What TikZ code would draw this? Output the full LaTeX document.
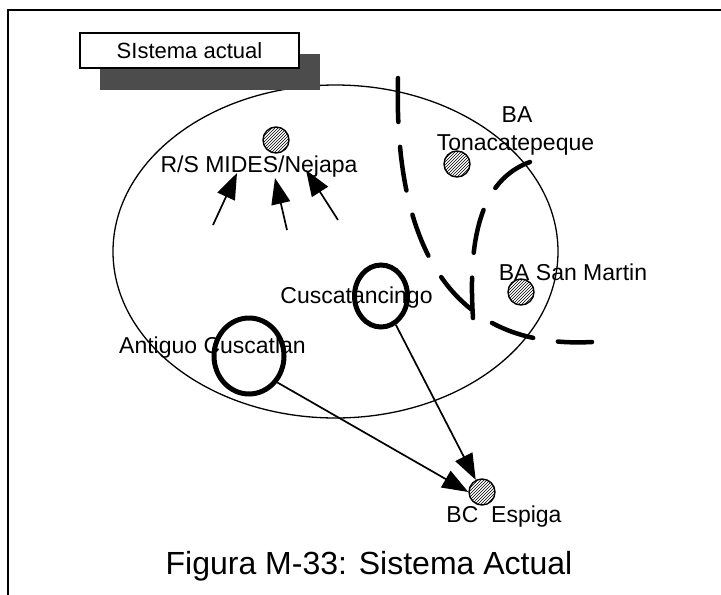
\documentclass[tikz,border=0pt]{standalone}
\usepackage{fontspec}
\setmainfont{Liberation Sans}
\usetikzlibrary{arrows.meta,positioning,shapes.geometric,patterns}

\begin{document}
\begin{tikzpicture}[x=1pt,y=-1pt,
        lbl/.style={inner sep=0pt,font=\fontsize{23}{27}\selectfont},
        site/.style={circle,draw,line width=1.4pt,pattern=north east lines,minimum size=26pt,inner sep=0pt},
        zone/.style={ellipse,draw,line width=5pt,inner sep=0pt},
        flow/.style={line width=1.7pt,-{Triangle[length=26pt,width=19pt]}},
        limite/.style={line width=4.5pt,line cap=round,dash pattern=on 44pt off 25pt}]
        \useasboundingbox (0,0) rectangle (721,595);
        % Frame
        \draw[line width=2pt] (8,595) -- (8,10) -- (721,10);
        % Area of the current system
        \draw[line width=1.3pt] (335.5,251.5) ellipse [x radius=222.5pt, y radius=166.5pt];
        % Title box with shadow
        \fill[black!70] (100,54) rectangle (320,90);
        \node[draw,fill=white,line width=1.5pt,minimum width=219pt,minimum height=35pt,
            font=\fontsize{22}{26}\selectfont] (titulo) at (189.5,50.5) {SIstema actual};
        % Boundaries
        \draw[limite] (398,78) .. controls (394,230) and (440,350) .. (592,342);
        \draw[limite] (530,162) .. controls (480,180) and (468,240) .. (473,318);
        % Labels
        \node[lbl,anchor=base] (midesl) at (259,172) {R/S MIDES/Nejapa};
        \node[lbl,anchor=base] (tonal) at (517,122) {BA};
        \node[lbl,anchor=base] (tonal2) at (515.5,150) {Tonacatepeque};
        \node[lbl,anchor=base] (sanmartinl) at (573,280) {BA San Martin};
        \node[lbl,anchor=base] (cuscal) at (356.5,303) {Cuscatancingo};
        \node[lbl,anchor=base] (antiguol) at (212.5,353) {Antiguo Cuscatlan};
        \node[lbl,anchor=base] (espigal) at (504,522) {BC\ \ Espiga};
        % Sites
        \node[site] (mides) at (276,140) {};
        \node[site] (tona) at (457,164) {};
        \node[site] (sanmartin) at (521,292) {};
        \node[site] (espiga) at (482,492) {};
        % Collection zones
        \node[zone,minimum width=53pt,minimum height=62pt] (cusca) at (381,296) {};
        \node[zone,minimum width=70pt,minimum height=76pt] (antiguo) at (249,356) {};
        % Flows to R/S MIDES
        \coordinate (c1) at (213,225);
        \coordinate (p1) at (237,173);
        \coordinate (c2) at (287,230);
        \coordinate (p2) at (275,178);
        \coordinate (c3) at (338,220);
        \coordinate (p3) at (306,170);
        \draw[flow] (c1) -- (p1);
        \draw[flow] (c2) -- (p2);
        \draw[flow] (c3) -- (p3);
        % Flows to BC Espiga
        \draw[flow] (antiguo.-43) -- (espiga.west);
        \draw[flow] (cusca) -- (espiga);
        % Caption
        \node[font=\fontsize{32}{38}\selectfont,anchor=base] (pie) at (369,574) {Figura M-33: Sistema Actual};
\end{tikzpicture}
\end{document}
